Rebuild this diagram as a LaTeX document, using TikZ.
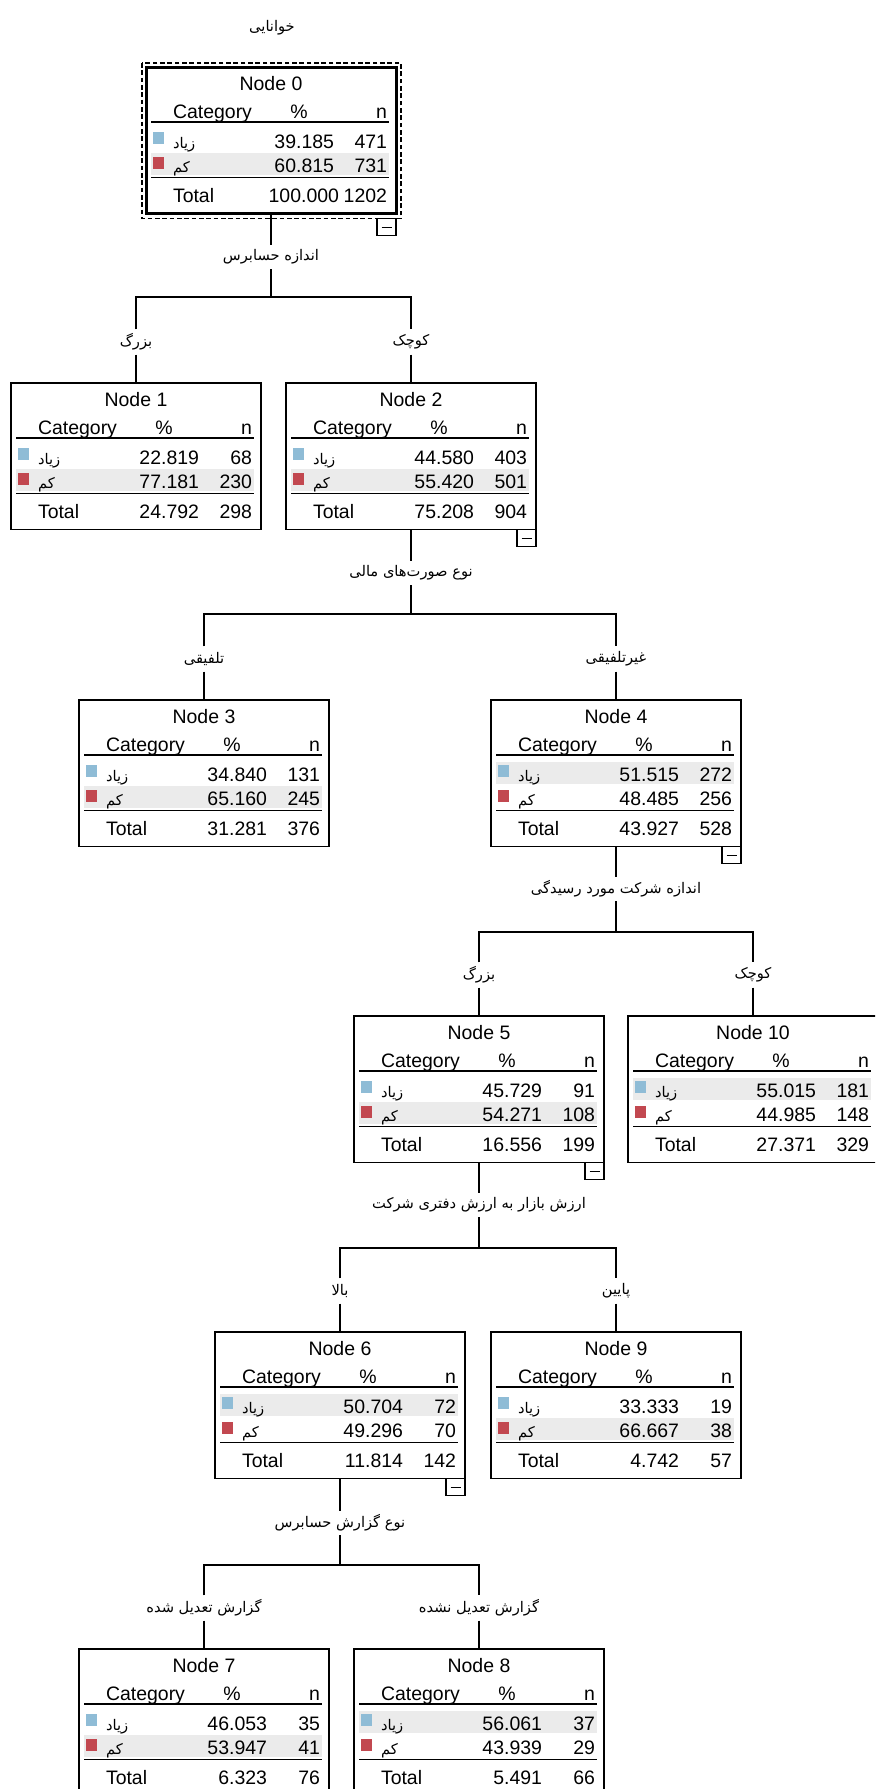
\documentclass[tikz,border=0pt]{standalone}
\usepackage{fontspec}
\setmainfont{Liberation Sans}
\newfontfamily\fa[Script=Arabic]{DejaVu Sans}
\TeXXeTstate=1
\usetikzlibrary{calc}
\definecolor{zblue}{RGB}{143,188,214}
\definecolor{zred}{RGB}{194,72,80}
\definecolor{hlgray}{RGB}{235,235,235}
\newcommand\fat[1]{\beginR#1\endR}
\tikzset{
  tbox/.style={draw, line width=1pt, minimum width=187.5pt, minimum height=110pt, inner sep=0pt, outer sep=0pt},
  lat/.style={inner sep=0pt, outer sep=0pt, font=\fontsize{14.6}{17}\selectfont},
  fatxt/.style={inner sep=0pt, outer sep=0pt, font=\fa\fontsize{11}{13}\selectfont},
  split/.style={fatxt, minimum height=18pt},
  blab/.style={fatxt, minimum height=19pt},
  rulel/.style={line width=1pt},
  conn/.style={line width=1pt},
  cbox/.style={draw, line width=1pt, minimum width=14.25pt, minimum height=12.75pt, inner sep=0pt, outer sep=0pt},
}
\def\totx{188}
% #1 extra style, #2 name, #3 left, #4 top, #5 title
\newcommand\tbl[5][]{%
  \node[tbox, #1, anchor=north west] (#2) at (#3,#4) {};
  \node[lat, anchor=base] (#2-t) at ($(#2.north west)+(125,23)$) {#5};
  \node[lat, anchor=base west] (#2-hc) at ($(#2.north west)+(27,51)$) {Category};
  \node[lat, anchor=base] (#2-hp) at ($(#2.north west)+(153,51)$) {\%};
  \node[lat, anchor=base east] (#2-hn) at ($(#2.north west)+(241,51)$) {n};
  \draw[rulel] ($(#2.north west)+(5,55)$) -- ($(#2.north west)+(243,55)$);
  \draw[rulel] ($(#2.north west)+(5,110.5)$) -- ($(#2.north west)+(243,110.5)$);
}
% #1 name, #2 highlighted row, #3 p1, #4 n1, #5 p2, #6 n2, #7 pt, #8 nt
\newcommand\trows[8]{%
  \fill[hlgray] ($(#1.north west)+(5,{38+24*#2})$) rectangle ++(238,22);
  \fill[zblue] ($(#1.north west)+(7,65)$) rectangle ++(11,12);
  \fill[zred] ($(#1.north west)+(7,90)$) rectangle ++(11,12);
  \node[fatxt, anchor=base west] (#1-c1) at ($(#1.north west)+(27,81)$) {\fat{زیاد}};
  \node[fatxt, anchor=base west] (#1-c2) at ($(#1.north west)+(27,105)$) {\fat{کم}};
  \node[lat, anchor=base east] (#1-p1) at ($(#1.north west)+(188,81)$) {#3};
  \node[lat, anchor=base east] (#1-n1) at ($(#1.north west)+(241,81)$) {#4};
  \node[lat, anchor=base east] (#1-p2) at ($(#1.north west)+(188,105)$) {#5};
  \node[lat, anchor=base east] (#1-n2) at ($(#1.north west)+(241,105)$) {#6};
  \node[lat, anchor=base west] (#1-tl) at ($(#1.north west)+(27,135)$) {Total};
  \node[lat, anchor=base east] (#1-pt) at ($(#1.north west)+(\totx,135)$) {#7};
  \node[lat, anchor=base east] (#1-nt) at ($(#1.north west)+(241,135)$) {#8};
}
% collapse box: #1 name, #2 parent, #3 dy
\newcommand\collapse[3]{%
  \node[cbox, anchor=north east] (#1) at ($(#2.south east)+(0,#3)$) {};
  \draw[rulel] ($(#1.center)+(-5,0)$) -- ($(#1.center)+(5,0)$);
}
\begin{document}
\begin{tikzpicture}[x=0.75pt,y=-0.75pt]
\useasboundingbox (0,0) rectangle (875,1789);
\clip (0,0) rectangle (875,1789);
\fill[white] (0,0) rectangle (875,1789);

% title
\node[fatxt] (title) at (272,28) {\fat{خوانایی}};

% ---------- nodes ----------
\def\totx{193}
\tbl[line width=2.25pt]{n0}{146}{67}{Node 0}
\trows{n0}{2}{39.185}{471}{60.815}{731}{100.000}{1202}
\def\totx{188}
\draw[line width=0.9pt, dash pattern=on 3.5pt off 2pt] ($(n0.north west)+(-4,-4)$) rectangle ($(n0.south east)+(5,5)$);
\collapse{c0}{n0}{5}

\tbl{n1}{11}{383}{Node 1}
\trows{n1}{2}{22.819}{68}{77.181}{230}{24.792}{298}
\tbl{n2}{286}{383}{Node 2}
\trows{n2}{2}{44.580}{403}{55.420}{501}{75.208}{904}
\collapse{c2}{n2}{0}

\tbl{n3}{79}{700}{Node 3}
\trows{n3}{2}{34.840}{131}{65.160}{245}{31.281}{376}
\tbl{n4}{491}{700}{Node 4}
\trows{n4}{1}{51.515}{272}{48.485}{256}{43.927}{528}
\collapse{c4}{n4}{0}

\tbl{n5}{354}{1016}{Node 5}
\trows{n5}{2}{45.729}{91}{54.271}{108}{16.556}{199}
\collapse{c5}{n5}{0}
\tbl{n10}{628}{1016}{Node 10}
\trows{n10}{1}{55.015}{181}{44.985}{148}{27.371}{329}

\tbl{n6}{215}{1332}{Node 6}
\trows{n6}{1}{50.704}{72}{49.296}{70}{11.814}{142}
\collapse{c6}{n6}{0}
\tbl{n9}{491}{1332}{Node 9}
\trows{n9}{2}{33.333}{19}{66.667}{38}{4.742}{57}

\tbl{n7}{79}{1649}{Node 7}
\trows{n7}{2}{46.053}{35}{53.947}{41}{6.323}{76}
\tbl{n8}{354}{1649}{Node 8}
\trows{n8}{1}{56.061}{37}{43.939}{29}{5.491}{66}

% ---------- connectors ----------
% split of node 0
\node[split] (s0) at ($(n0.north)+(0,190)$) {\fat{اندازه حسابرس}};
\coordinate (j0) at ($(s0.center)+(0,40)$);
\node[blab] (b1) at ($(n1.north)+(0,-41)$) {\fat{بزرگ}};
\node[blab] (b2) at ($(n2.north)+(0,-41)$) {\fat{کوچک}};
\draw[conn] (n0.south) -- (s0.north);
\draw[conn] (s0.south) -- (j0);
\draw[conn] (b1.north) |- (j0) -| (b2.north);
\draw[conn] (b1.south) -- (n1.north);
\draw[conn] (b2.south) -- (n2.north);

% split of node 2
\node[split] (s2) at ($(n2.north)+(0,190)$) {\fat{نوع صورت‌های مالی}};
\coordinate (j2) at ($(s2.center)+(0,41)$);
\node[blab] (b3) at ($(n3.north)+(0,-41)$) {\fat{تلفیقی}};
\node[blab] (b4) at ($(n4.north)+(0,-41)$) {\fat{غیرتلفیقی}};
\draw[conn] (n2.south) -- (s2.north);
\draw[conn] (s2.south) -- (j2);
\draw[conn] (b3.north) |- (j2) -| (b4.north);
\draw[conn] (b3.south) -- (n3.north);
\draw[conn] (b4.south) -- (n4.north);

% split of node 4
\node[split] (s4) at ($(n4.north)+(0,189)$) {\fat{اندازه شرکت مورد رسیدگی}};
\coordinate (j4) at ($(s4.center)+(0,43)$);
\node[blab] (b5) at ($(n5.north)+(0,-41)$) {\fat{بزرگ}};
\node[blab] (b10) at ($(n10.north)+(0,-41)$) {\fat{کوچک}};
\draw[conn] (n4.south) -- (s4.north);
\draw[conn] (s4.south) -- (j4);
\draw[conn] (b5.north) |- (j4) -| (b10.north);
\draw[conn] (b5.south) -- (n5.north);
\draw[conn] (b10.south) -- (n10.north);

% split of node 5
\node[split] (s5) at ($(n5.north)+(0,189)$) {\fat{ارزش بازار به ارزش دفتری شرکت}};
\coordinate (j5) at ($(s5.center)+(0,43)$);
\node[blab] (b6) at ($(n6.north)+(0,-41)$) {\fat{بالا}};
\node[blab] (b9) at ($(n9.north)+(0,-41)$) {\fat{پایین}};
\draw[conn] (n5.south) -- (s5.north);
\draw[conn] (s5.south) -- (j5);
\draw[conn] (b6.north) |- (j5) -| (b9.north);
\draw[conn] (b6.south) -- (n6.north);
\draw[conn] (b9.south) -- (n9.north);

% split of node 6
\node[split] (s6) at ($(n6.north)+(0,191)$) {\fat{نوع گزارش حسابرس}};
\coordinate (j6) at ($(s6.center)+(0,42)$);
\node[blab] (b7) at ($(n7.north)+(0,-41)$) {\fat{گزارش تعدیل شده}};
\node[blab] (b8) at ($(n8.north)+(0,-41)$) {\fat{گزارش تعدیل نشده}};
\draw[conn] (n6.south) -- (s6.north);
\draw[conn] (s6.south) -- (j6);
\draw[conn] (b7.north) |- (j6) -| (b8.north);
\draw[conn] (b7.south) -- (n7.north);
\draw[conn] (b8.south) -- (n8.north);
\end{tikzpicture}
\end{document}
